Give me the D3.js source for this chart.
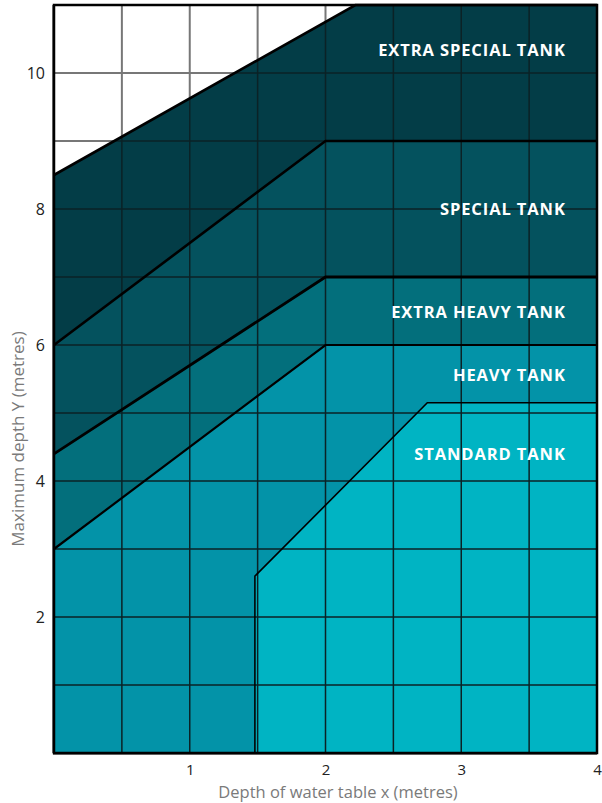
<!DOCTYPE html>
<html>
<head>
<meta charset="utf-8">
<script src="https://cdn.jsdelivr.net/npm/d3@7"></script>
<style>
  html, body { margin: 0; padding: 0; background: #fff; }
  svg { display: block; }
</style>
</head>
<body>
<svg id="chart" width="602" height="803"></svg>
<script>
// Tank classes, from lightest to heaviest
const tankNames = ["STANDARD TANK", "HEAVY TANK", "EXTRA HEAVY TANK", "SPECIAL TANK", "EXTRA SPECIAL TANK"];
const tankColors = ["#00b4c3", "#0393a8", "#036f7c", "#04525e", "#033d47"];

// Upper boundary of each class: [depth of water table x, maximum depth Y]
const standardEdge = [[1.48, 0], [1.48, 2.6], [2.75, 5.15], [4, 5.15]];
const heavyEdge = [[0, 3], [2, 6], [4, 6]];
const extraHeavyEdge = [[0, 4.4], [2, 7], [4, 7]];
const specialEdge = [[0, 6], [2, 9], [4, 9]];
const extraSpecialEdge = [[0, 8.5], [2.22, 11], [4, 11]];
const tankEdges = [standardEdge, heavyEdge, extraHeavyEdge, specialEdge, extraSpecialEdge];
const edgeWidths = [1.6, 2.2, 2.8, 2.6, 2.6];

// Label anchor (right edge x, centre y) for each class
const labelX = 3.77;
const labelY = [4.4, 5.56, 6.49, 8.01, 10.35];

// Axes
const xTicks = [1, 2, 3, 4];
const yTicks = [2, 4, 6, 8, 10];
const xGrid = d3.range(0, 4.01, 0.5);
const yGrid = d3.range(0, 11.01, 1);
const xTitle = "Depth of water table x (metres)";
const yTitle = "Maximum depth Y (metres)";

const svg = d3.select("#chart");
const x = d3.scaleLinear().domain([0, 4]).range([54, 597]);
const y = d3.scaleLinear().domain([0, 11]).range([753, 5]);

const line = d3.line().x(d => x(d[0])).y(d => y(d[1]));
const areaPoints = edge => edge.concat([[4, 0], [edge[0][0], 0]]);

// light grid over the empty part
const gridLight = svg.append("g");
gridLight.selectAll("line.v").data(xGrid).join("line")
  .attr("x1", d => x(d)).attr("x2", d => x(d))
  .attr("y1", y(0)).attr("y2", y(11))
  .attr("stroke", "#777").attr("stroke-width", 2);
gridLight.selectAll("line.h").data(yGrid).join("line")
  .attr("x1", x(0)).attr("x2", x(4))
  .attr("y1", d => y(d)).attr("y2", d => y(d))
  .attr("stroke", "#777").attr("stroke-width", 2);

// filled regions, heaviest first so lighter classes sit on top
const order = d3.range(tankNames.length).reverse();
svg.append("g").selectAll("path").data(order).join("path")
  .attr("d", i => line(areaPoints(tankEdges[i])) + "Z")
  .attr("fill", i => tankColors[i]);

// dark grid over the filled area
svg.append("clipPath").attr("id", "filled")
  .append("path").attr("d", line(areaPoints(extraSpecialEdge)) + "Z");
const gridDark = svg.append("g").attr("clip-path", "url(#filled)");
gridDark.selectAll("line.v").data(xGrid).join("line")
  .attr("x1", d => x(d)).attr("x2", d => x(d))
  .attr("y1", y(0)).attr("y2", y(11))
  .attr("stroke", "#0b2226").attr("stroke-width", 1.5);
gridDark.selectAll("line.h").data(yGrid).join("line")
  .attr("x1", x(0)).attr("x2", x(4))
  .attr("y1", d => y(d)).attr("y2", d => y(d))
  .attr("stroke", "#0b2226").attr("stroke-width", 1.5);

// class boundaries
svg.append("g").selectAll("path").data(order).join("path")
  .attr("d", i => line(tankEdges[i]))
  .attr("fill", "none")
  .attr("stroke", "#000")
  .attr("stroke-width", i => edgeWidths[i])
  .attr("stroke-linejoin", "miter");

// frame
svg.append("rect")
  .attr("x", x(0)).attr("y", y(11))
  .attr("width", x(4) - x(0)).attr("height", y(0) - y(11))
  .attr("fill", "none").attr("stroke", "#000").attr("stroke-width", 2.5);
svg.append("line")
  .attr("x1", x(0) - 1).attr("x2", x(4)).attr("y1", y(0) + 0.5).attr("y2", y(0) + 0.5)
  .attr("stroke", "#000").attr("stroke-width", 2);
svg.append("line")
  .attr("x1", x(0) - 0.5).attr("x2", x(0) - 0.5).attr("y1", y(11)).attr("y2", y(0))
  .attr("stroke", "#000").attr("stroke-width", 2);

const font = "'Open Sans', sans-serif";

// class labels
svg.append("g").selectAll("text").data(tankNames).join("text")
  .attr("x", x(labelX))
  .attr("y", (d, i) => y(labelY[i]))
  .attr("text-anchor", "end")
  .attr("dominant-baseline", "central")
  .attr("fill", "#fff")
  .attr("font-family", font)
  .attr("font-weight", 700)
  .attr("font-size", 16.5)
  .attr("letter-spacing", 0.9)
  .text(d => d);

// axes
const xAxis = svg.append("g")
  .attr("transform", `translate(0,${y(0)})`)
  .call(d3.axisBottom(x).tickValues(xTicks).tickSize(0).tickPadding(11).tickFormat(d3.format("d")));
xAxis.select(".domain").remove();
xAxis.selectAll("text").attr("font-family", font).attr("font-size", 15).attr("fill", "#222");

const yAxis = svg.append("g")
  .attr("transform", `translate(${x(0)},0)`)
  .call(d3.axisLeft(y).tickValues(yTicks).tickSize(0).tickPadding(9).tickFormat(d3.format("d")));
yAxis.select(".domain").remove();
yAxis.selectAll("text").attr("font-family", font).attr("font-size", 16).attr("fill", "#222");

svg.append("text")
  .attr("x", 338)
  .attr("y", 797.5)
  .attr("text-anchor", "middle")
  .attr("font-family", font).attr("font-size", 16.5).attr("fill", "#7a7a7a")
  .text(xTitle);

svg.append("text")
  .attr("transform", "translate(24,439) rotate(-90)")
  .attr("text-anchor", "middle")
  .attr("font-family", font).attr("font-size", 17).attr("fill", "#7a7a7a")
  .text(yTitle);
</script>
</body>
</html>
